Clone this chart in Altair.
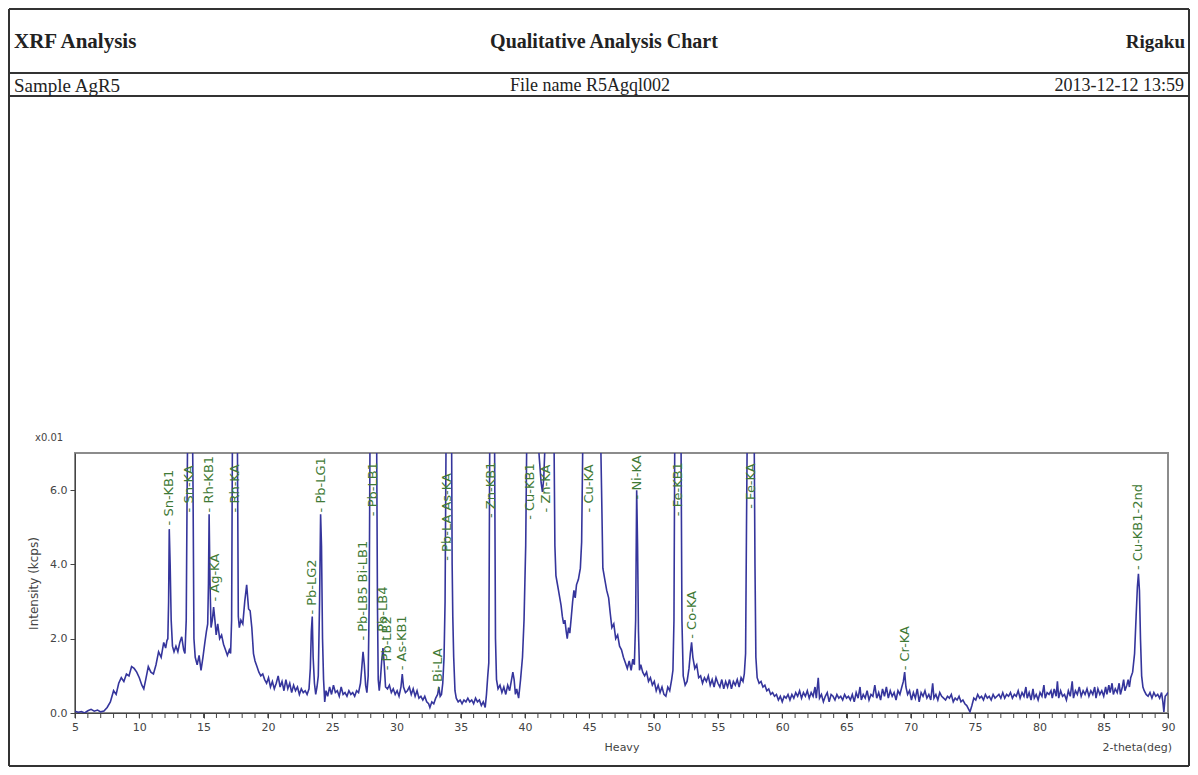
import altair as alt
import pandas as pd

# ---- spectrum: (2-theta deg, intensity x0.01 kcps) ----
seg_05_12 = [(5.0,0.05),(5.25,0.02),(5.5,0.04),(5.75,0.0),(6.0,0.06),(6.25,0.1),(6.5,0.05),(6.75,0.08),
             (7.0,0.03),(7.25,0.05),(7.5,0.15),(7.75,0.3),(8.0,0.6),(8.2,0.5),(8.4,0.8),(8.6,0.95),
             (8.8,0.85),(9.0,1.05),(9.2,1.0),(9.4,1.25),(9.6,1.2),(9.8,1.1),(10.0,0.95),(10.2,0.75),
             (10.35,0.65),(10.5,0.9),(10.7,1.25),(10.9,1.1),(11.1,1.05),(11.3,1.3),(11.5,1.65),(11.7,1.5),
             (11.9,1.9),(12.05,1.75),(12.15,1.95)]
seg_12_15 = [(12.22,2.0),(12.28,3.0),(12.33,4.95),(12.4,4.0),(12.48,2.5),(12.58,1.8),(12.7,1.65),(12.85,1.8),
             (13.0,1.65),(13.15,1.9),(13.3,2.05),(13.45,1.7),(13.55,1.6),(13.65,2.5),(13.72,6.0),(13.8,9.0),
             (13.95,9.5),(14.1,9.0),(14.18,6.0),(14.25,2.0),(14.35,1.5),(14.5,1.3),(14.65,1.55),(14.8,1.15)]
seg_15_19 = [(14.95,1.5),(15.1,1.9),(15.22,2.2),(15.32,2.4),(15.38,3.5),(15.43,5.35),(15.5,3.5),(15.58,2.3),
             (15.68,2.5),(15.78,2.85),(15.88,2.5),(15.98,2.1),(16.1,2.4),(16.25,2.0),(16.4,2.1),(16.55,1.85),
             (16.7,1.7),(16.85,1.55),(17.0,1.7),(17.1,1.6),(17.18,2.5),(17.25,8.0),(17.45,9.5),(17.62,8.0),
             (17.7,2.6),(17.78,2.3),(17.9,2.5),(18.05,2.4),(18.2,3.0),(18.35,3.45),(18.5,2.8),(18.62,2.75),
             (18.75,2.3),(18.88,1.6),(19.0,1.4)]
seg_19_25 = [(19.15,1.25),(19.3,1.1),(19.45,1.0),(19.6,1.05),(19.75,0.9),(19.9,0.8),(20.05,0.95),(20.2,0.7),
             (20.35,0.85),(20.5,0.65),(20.65,0.8),(20.8,1.0),(20.95,0.7),(21.1,0.85),(21.25,0.6),(21.4,0.9),
             (21.55,0.65),(21.7,0.8),(21.85,0.55),(22.0,0.75),(22.15,0.6),(22.3,0.7),(22.45,0.5),(22.6,0.65),
             (22.75,0.55),(22.9,0.6),(23.05,0.5),(23.2,0.65),(23.3,1.2),(23.38,2.2),(23.45,2.6),(23.52,1.5),
             (23.62,0.8),(23.72,0.5),(23.82,0.7),(23.92,1.0),(24.02,3.0),(24.1,5.35),(24.17,4.5),(24.25,2.0),
             (24.33,0.9),(24.42,0.3),(24.52,0.6)]
seg_25_34 = [(24.65,0.45),(24.8,0.7),(24.95,0.5),(25.1,0.75),(25.25,0.55),(25.4,0.6),(25.55,0.45),(25.7,0.7),
             (25.85,0.5),(26.0,0.55),(26.15,0.45),(26.3,0.6),(26.45,0.5),(26.6,0.55),(26.75,0.45),(26.9,0.6),
             (27.05,0.55),(27.2,0.8),(27.3,1.2),(27.4,1.65),(27.5,1.3),(27.6,0.75),(27.7,0.55),(27.8,1.0),
             (27.88,3.0),(27.95,8.0),(28.2,9.5),(28.45,8.0),(28.52,3.0),(28.58,0.9),(28.66,0.6),(28.75,0.9),
             (28.85,1.4),(28.95,1.75),(29.05,1.3),(29.15,0.7),(29.3,0.65),(29.45,0.75),(29.6,0.55),(29.75,0.65),
             (29.9,0.5),(30.05,0.6),(30.2,0.45),(30.35,0.7),(30.45,1.05),(30.55,0.7),(30.7,0.55),(30.85,0.6),
             (31.0,0.7),(31.15,0.5),(31.3,0.65),(31.45,0.45),(31.6,0.6),(31.75,0.4),(31.9,0.45),(32.05,0.35),
             (32.2,0.45),(32.35,0.3),(32.5,0.25),(32.6,0.15),(32.75,0.3),(32.9,0.25),(33.05,0.4),(33.2,0.5),
             (33.3,0.7),(33.4,0.45),(33.5,0.5),(33.6,0.8)]
seg_34_40 = [(33.7,1.5),(33.78,3.0),(33.85,7.0),(33.95,9.0),(34.15,9.5),(34.28,8.0),(34.33,4.0),(34.38,2.6),
             (34.45,1.5),(34.55,0.6),(34.65,0.4),(34.8,0.3),(34.95,0.35),(35.1,0.25),(35.25,0.35),(35.4,0.3),
             (35.55,0.4),(35.7,0.3),(35.85,0.35),(36.0,0.25),(36.15,0.4),(36.3,0.3),(36.45,0.35),(36.6,0.2),
             (36.75,0.3),(36.9,0.15),(37.0,0.5),(37.1,1.0),(37.18,1.35),(37.25,7.0),(37.45,9.5),(37.62,8.0),
             (37.7,2.0),(37.78,0.9),(37.9,0.65),(38.05,0.75),(38.2,0.55),(38.35,0.7),(38.5,0.5),(38.65,0.75),
             (38.8,0.6),(38.95,0.9),(39.05,1.1),(39.15,0.9),(39.25,0.5),(39.35,0.65),(39.5,0.4),(39.65,0.9),
             (39.8,1.5),(39.92,2.5)]
seg_40_49 = [(40.05,4.5),(40.15,8.0),(40.5,9.5),(40.9,8.0),(41.1,6.9),(41.25,6.2),(41.35,5.95),(41.45,6.3),
             (41.55,7.2),(41.7,8.5),(42.0,9.0),(42.25,7.5),(42.32,4.5),(42.4,3.7),(42.5,3.5),(42.6,3.3),
             (42.7,3.1),(42.8,2.9),(42.9,2.6),(43.0,2.4),(43.1,2.5),(43.2,2.2),(43.28,2.0),(43.38,2.3),
             (43.48,2.15),(43.6,2.6),(43.7,3.0),(43.8,3.3),(43.9,3.1),(44.0,3.45),(44.15,3.6),(44.3,3.9),
             (44.4,4.6),(44.48,7.0),(44.6,9.0),(45.2,10.0),(45.8,9.0),(45.95,6.0),(46.05,3.9),(46.2,3.6),
             (46.35,3.3),(46.5,3.1),(46.62,2.7),(46.75,2.3),(46.9,2.4),(47.05,2.0),(47.2,2.1),(47.35,1.8),
             (47.5,1.7),(47.65,1.5),(47.8,1.35),(47.95,1.2),(48.1,1.4),(48.25,1.15),(48.38,1.45),(48.5,1.3),
             (48.6,2.5)]
seg_49_57 = [(48.68,6.0),(48.75,4.5),(48.82,2.2),(48.9,1.15),(49.0,1.3),(49.15,1.1),(49.3,1.0),(49.45,1.1),
             (49.6,0.85),(49.75,0.95),(49.9,0.75),(50.05,0.85),(50.2,0.6),(50.35,0.75),(50.5,0.55),(50.65,0.7),
             (50.8,0.5),(50.95,0.45),(51.1,0.7),(51.25,0.6),(51.4,0.9),(51.5,1.15),(51.58,2.5),(51.65,8.0),
             (51.9,9.5),(52.12,8.0),(52.2,2.5),(52.3,1.0),(52.45,0.75),(52.6,0.85),(52.75,1.2),(52.85,1.6),
             (52.95,1.9),(53.05,1.5),(53.2,1.2),(53.35,1.3),(53.5,0.95),(53.65,1.0),(53.8,0.8),(53.95,0.95),
             (54.1,0.85),(54.25,1.0),(54.4,0.75),(54.55,0.9),(54.7,0.7),(54.85,0.95),(55.0,0.8),(55.15,0.7),
             (55.3,0.9),(55.45,0.65),(55.6,0.85),(55.75,0.7),(55.9,0.9),(56.05,0.65),(56.2,0.85),(56.35,0.75),
             (56.5,0.9),(56.65,0.7),(56.8,0.95),(56.95,0.85),(57.05,1.05),(57.15,1.6),(57.22,5.0)]
seg_57_70 = [(57.3,8.5),(57.55,9.5),(57.8,8.5),(57.88,4.0),(57.95,1.5),(58.05,0.95),(58.2,0.8),(58.35,0.85),
             (58.5,0.7),(58.65,0.75),(58.8,0.6),(58.95,0.65),(59.1,0.5),(59.25,0.55),(59.4,0.45),(59.55,0.5),
             (59.7,0.35),(59.85,0.45),(60.0,0.3),(60.15,0.45),(60.3,0.4),(60.45,0.5),(60.6,0.35),(60.75,0.5),
             (60.9,0.4),(61.05,0.55),(61.2,0.45),(61.35,0.6),(61.5,0.4),(61.65,0.55),(61.8,0.45),(61.95,0.6),
             (62.1,0.4),(62.25,0.55),(62.4,0.45),(62.55,0.7),(62.65,0.4),(62.8,0.95),(62.9,0.4),(63.05,0.5),
             (63.2,0.3),(63.35,0.45),(63.5,0.55),(63.65,0.3),(63.8,0.5),(63.95,0.45),(64.1,0.35),(64.25,0.5),
             (64.4,0.4),(64.55,0.45),(64.7,0.35),(64.85,0.5),(65.0,0.4),(65.15,0.45),(65.3,0.35),(65.45,0.5),
             (65.6,0.3),(65.75,0.55),(65.9,0.4),(66.05,0.7),(66.15,0.35),(66.3,0.5),(66.45,0.4),(66.6,0.6),
             (66.75,0.35),(66.9,0.5),(67.05,0.45),(67.2,0.75),(67.35,0.4),(67.5,0.55),(67.65,0.35),(67.8,0.65),
             (67.95,0.45),(68.1,0.7),(68.25,0.4),(68.4,0.6),(68.55,0.45),(68.7,0.55),(68.85,0.35),(69.0,0.6),
             (69.15,0.5),(69.3,0.7),(69.42,0.85),(69.52,1.1),(69.62,0.7),(69.75,0.5),(69.9,0.6)]
seg_70_80 = [(70.05,0.35),(70.2,0.55),(70.35,0.4),(70.5,0.65),(70.65,0.3),(70.8,0.55),(70.95,0.45),(71.1,0.6),
             (71.25,0.4),(71.4,0.5),(71.55,0.35),(71.7,0.8),(71.8,0.4),(71.95,0.5),(72.1,0.35),(72.25,0.55),
             (72.4,0.45),(72.55,0.4),(72.7,0.35),(72.85,0.45),(73.0,0.4),(73.15,0.5),(73.3,0.3),(73.45,0.4),
             (73.6,0.35),(73.75,0.45),(73.9,0.3),(74.05,0.35),(74.2,0.25),(74.35,0.2),(74.5,0.1),(74.6,0.03),
             (74.75,0.2),(74.9,0.4),(75.05,0.35),(75.2,0.5),(75.35,0.4),(75.5,0.45),(75.65,0.35),(75.8,0.5),
             (75.95,0.4),(76.1,0.45),(76.25,0.35),(76.4,0.5),(76.55,0.4),(76.7,0.45),(76.85,0.5),(77.0,0.4),
             (77.15,0.55),(77.3,0.4),(77.45,0.5),(77.6,0.45),(77.75,0.55),(77.9,0.4),(78.05,0.5),(78.2,0.45),
             (78.35,0.6),(78.5,0.4),(78.65,0.55),(78.8,0.45),(78.95,0.7),(79.05,0.4),(79.2,0.55),(79.35,0.35),
             (79.5,0.65),(79.6,0.4),(79.75,0.5),(79.9,0.35)]
seg_80_90 = [(80.05,0.55),(80.2,0.45),(80.35,0.75),(80.45,0.4),(80.6,0.55),(80.75,0.5),(80.9,0.6),(81.0,0.4),
             (81.15,0.65),(81.3,0.45),(81.4,0.85),(81.5,0.4),(81.65,0.6),(81.8,0.45),(81.95,0.5),(82.1,0.35),
             (82.25,0.6),(82.4,0.45),(82.55,0.85),(82.65,0.4),(82.8,0.6),(82.95,0.5),(83.1,0.7),(83.25,0.45),
             (83.4,0.6),(83.55,0.5),(83.7,0.65),(83.85,0.45),(84.0,0.6),(84.15,0.5),(84.3,0.7),(84.4,0.4),
             (84.55,0.65),(84.7,0.5),(84.85,0.6),(85.0,0.45),(85.15,0.7),(85.25,0.5),(85.4,0.75),(85.5,0.55),
             (85.65,0.8),(85.75,0.5),(85.9,0.65),(86.05,0.55),(86.2,0.8),(86.3,0.5),(86.45,0.7),(86.55,0.9),
             (86.65,0.6),(86.8,0.75),(86.9,0.9),(87.0,0.7),(87.1,0.95),(87.25,1.1),(87.4,1.6),(87.52,2.6),
             (87.62,3.4),(87.7,3.75),(87.78,3.3),(87.86,2.0),(87.95,1.0),(88.05,0.7),(88.15,0.6),(88.3,0.5),
             (88.45,0.45),(88.6,0.55),(88.75,0.4),(88.9,0.55),(89.05,0.45),(89.2,0.5),(89.35,0.4),(89.5,0.55),
             (89.6,0.3),(89.68,0.03),(89.78,0.45),(89.9,0.5),(90.0,0.55)]

# ---- peak identification labels ----
peak_names = ["Sn-KB1", "Sn-KA", "Rh-KB1", "Ag-KA", "Rh-KA", "Pb-LG2", "Pb-LG1", "Pb-LB5 Bi-LB1",
              "Pb-LB1", "Pb-LB4", "Pb-LB2", "As-KB1", "Bi-LA", "Pb-LA As-KA", "Zn-KB1", "Cu-KB1",
              "Zn-KA", "Cu-KA", "Ni-KA", "Fe-KB1", "Co-KA", "Fe-KA", "Cr-KA", "Cu-KB1-2nd"]
peak_angles = [12.33, 13.9, 15.43, 15.85, 17.45, 23.45, 24.1, 27.4,
               28.2, 28.95, 29.3, 30.45, 33.2, 33.95, 37.35, 40.35,
               41.65, 45.0, 48.7, 51.9, 52.95, 57.6, 69.52, 87.7]
label_levels = [5.05, 5.4, 5.4, 3.0, 5.4, 2.65, 5.4, 1.95,
                5.3, 1.95, 1.15, 1.15, 0.6, 4.1, 5.25, 5.2,
                5.4, 5.4, 5.75, 5.3, 2.0, 5.5, 1.15, 3.85]

x_major = list(range(5, 91, 5))
x_minor = list(range(5, 91))
y_ticks = [0, 2, 4, 6]

segments = [seg_05_12, seg_12_15, seg_15_19, seg_19_25, seg_25_34, seg_34_40,
            seg_40_49, seg_49_57, seg_57_70, seg_70_80, seg_80_90]
rows = [p for seg in segments for p in seg]
spec = pd.DataFrame({"two_theta": [r[0] for r in rows], "intensity": [r[1] for r in rows]})
labels = pd.DataFrame({"two_theta": peak_angles, "intensity": label_levels,
                       "name": ["- " + n for n in peak_names]})
minor = pd.DataFrame({"two_theta": x_minor})

xscale = alt.Scale(domain=[5, 90], nice=False, zero=False)
yscale = alt.Scale(domain=[0, 7], nice=False, zero=False)

x_axis = alt.Axis(values=x_major, title=None, grid=False, tickSize=5, labelPadding=3,
                  labelOverlap=False, labelFlush=False, labelFontSize=11)
y_axis = alt.Axis(values=y_ticks, format=".1f", title="Intensity (kcps)", grid=False,
                  tickSize=5, labelPadding=3, titlePadding=9, titleFontSize=12,
                  titleFontWeight="normal", labelFontSize=11)

line = alt.Chart(spec).mark_line(color="#35359c", strokeWidth=1.6, clip=True).encode(
    x=alt.X("two_theta:Q", scale=xscale, axis=x_axis),
    y=alt.Y("intensity:Q", scale=yscale, axis=y_axis),
)

minor_ticks = alt.Chart(minor).mark_rule(color="#444", strokeWidth=1).encode(
    x=alt.X("two_theta:Q", scale=xscale, axis=x_axis),
    y=alt.value(260), y2=alt.value(265),
)

peak_text = alt.Chart(labels).mark_text(angle=270, align="left", baseline="middle",
                                        color="#3f7a36", fontSize=13, font="DejaVu Sans").encode(
    x=alt.X("two_theta:Q", scale=xscale, axis=x_axis),
    y=alt.Y("intensity:Q", scale=yscale, axis=y_axis),
    text="name:N",
)


def note(text, x, y, align="left", size=11, weight="normal", font="DejaVu Sans", color="#444"):
    return alt.Chart(pd.DataFrame({"t": [text]})).mark_text(
        align=align, baseline="middle", fontSize=size, fontWeight=weight, font=font, color=color
    ).encode(x=alt.value(x), y=alt.value(y), text="t:N")


def hline(x1, x2, y):
    return alt.Chart(pd.DataFrame({"k": [0]})).mark_rule(color="#333", strokeWidth=2).encode(
        x=alt.value(x1), x2=alt.value(x2), y=alt.value(y))


def vline(x, y1, y2):
    return alt.Chart(pd.DataFrame({"k": [0]})).mark_rule(color="#333", strokeWidth=2).encode(
        x=alt.value(x), y=alt.value(y1), y2=alt.value(y2))


serif = "Liberation Serif"
decor = [
    hline(-66, 1114, -444), hline(-66, 1114, -380), hline(-66, 1114, -357), hline(-66, 1114, 313),
    vline(-66, -444, 313), vline(1114, -444, 313),
    note("XRF Analysis", -61, -411, size=21, weight="bold", font=serif, color="#222"),
    note("Qualitative Analysis Chart", 529, -411, align="center", size=20, weight="bold", font=serif, color="#222"),
    note("Rigaku", 1110, -411, align="right", size=19, weight="bold", font=serif, color="#222"),
    note("Sample  AgR5", -61, -367, size=19, font=serif, color="#222"),
    note("File name  R5Agql002", 515, -367, align="center", size=18, font=serif, color="#222"),
    note("2013-12-12 13:59", 1109, -367, align="right", size=18, font=serif, color="#222"),
    note("x0.01", -40, -15, size=10),
    note("Heavy", 547, 295, align="center", size=11),
    note("2-theta(deg)", 1097, 295, align="right", size=11),
]

chart = alt.layer(line, minor_ticks, peak_text, *decor).properties(
    width=1093, height=260,
    padding={"left": 67, "top": 445, "right": 22, "bottom": 55},
    autosize=alt.AutoSizeParams(type="none"),
).configure_view(stroke="#8c8c8c", strokeWidth=2).configure_axis(
    domainColor="#444", tickColor="#444", labelColor="#444", titleColor="#444",
    labelFont="DejaVu Sans", titleFont="DejaVu Sans",
)

chart.save("out.html", embed_options={"renderer": "svg", "actions": False})
